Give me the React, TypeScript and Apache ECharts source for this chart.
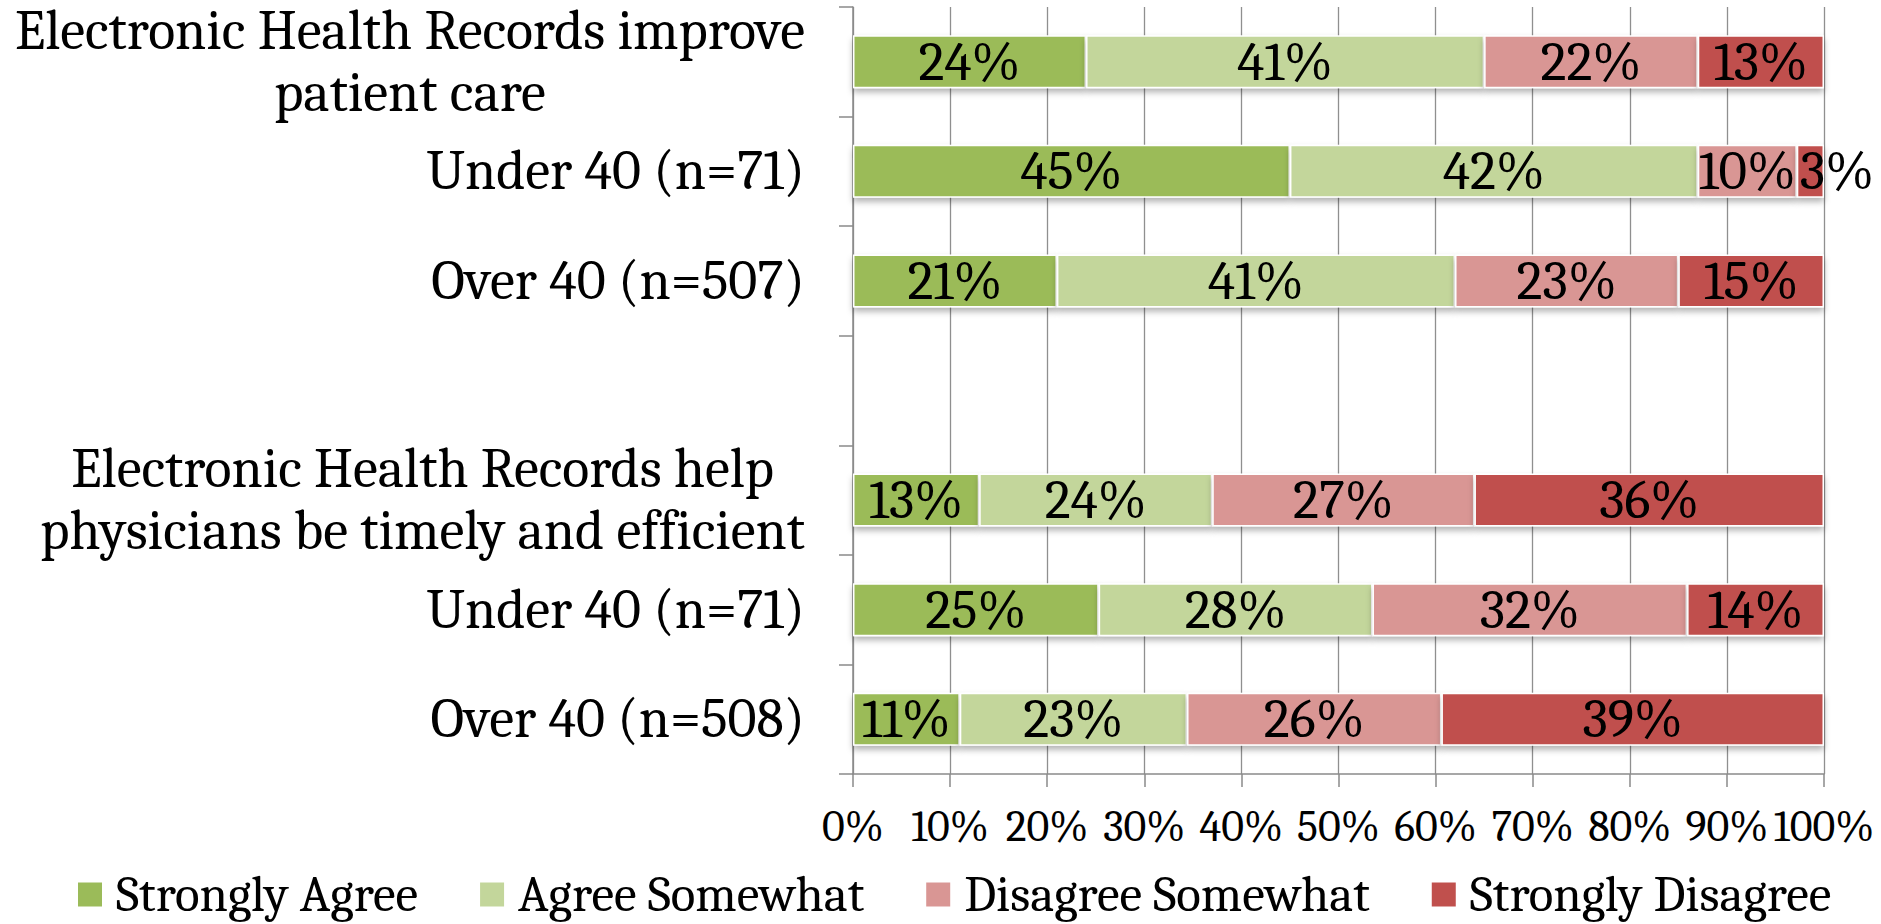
import React, { useEffect, useRef } from 'react';
import * as echarts from 'echarts';

const categories = [
  'Electronic Health Records improve\npatient care',
  'Under 40 (n=71)',
  'Over 40 (n=507)',
  '',
  'Electronic Health Records help\nphysicians be timely and efficient',
  'Under 40 (n=71)',
  'Over 40 (n=508)',
];

const seriesNames = ['Strongly Agree', 'Agree Somewhat', 'Disagree Somewhat', 'Strongly Disagree'];
const stronglyAgree = [24, 45, 21, null, 13, 25.3, 11.0];
const agreeSomewhat = [41, 42, 41, null, 24, 28.2, 23.4];
const disagreeSomewhat = [22, 10.2, 23, null, 27, 32.4, 26.2];
const stronglyDisagree = [13, 2.8, 15, null, 36, 14.1, 39.4];
const colors = ['#9BBB59', '#C3D69B', '#D99694', '#C0504D'];

const FONT = "Cambria, 'Liberation Serif', serif";

export default function App() {
  const ref = useRef<HTMLDivElement>(null);
  useEffect(() => {
    if (!ref.current) return;
    const chart = echarts.init(ref.current, undefined, { renderer: 'svg' });
    const all = [stronglyAgree, agreeSomewhat, disagreeSomewhat, stronglyDisagree];
    const series = all.map((vals, si) => ({
      name: seriesNames[si],
      type: 'bar',
      stack: 'total',
      barWidth: 53,
      itemStyle: {
        color: colors[si],
        borderColor: '#ffffff',
        borderWidth: 1.5,
        shadowColor: 'rgba(0,0,0,0.3)',
        shadowBlur: 6,
        shadowOffsetY: 4,
      },
      label: {
        show: true,
        position: 'inside',
        color: '#000',
        fontFamily: FONT,
        fontSize: 55,
        formatter: (p: any) => (p.value == null ? '' : Math.round(p.value) + '%'),
      },
      data: vals.map((v) => {
        if (v != null && v < 5) {
          return { value: v, label: { position: 'insideLeft', distance: 3 } };
        }
        return v;
      }),
    }));

    chart.setOption({
      animation: false,
      backgroundColor: '#ffffff',
      grid: { left: 853, right: 57, top: 7, bottom: 150, containLabel: false },
      legend: {
        data: seriesNames,
        left: 73,
        top: 864,
        icon: 'rect',
        itemWidth: 24,
        itemHeight: 24,
        itemGap: 62,
        itemStyle: { borderWidth: 0, shadowBlur: 0, shadowOffsetY: 0 },
        textStyle: { fontFamily: FONT, fontSize: 51, color: '#000', padding: [0, 0, 0, 9] },
      },
      xAxis: {
        type: 'value',
        min: 0,
        max: 100,
        interval: 10,
        axisLine: { show: true, lineStyle: { color: '#8a8a8a', width: 1.5 } },
        axisTick: { show: true, length: 13, lineStyle: { color: '#8a8a8a', width: 1.5 } },
        splitLine: { show: true, lineStyle: { color: '#8f8f8f', width: 1.3 } },
        axisLabel: {
          formatter: '{value}%',
          fontFamily: FONT,
          fontSize: 44,
          color: '#000',
          margin: 30,
        },
      },
      yAxis: {
        type: 'category',
        inverse: true,
        data: categories,
        axisLine: { show: true, lineStyle: { color: '#8a8a8a', width: 1.5 } },
        axisTick: { show: true, length: 14, lineStyle: { color: '#8a8a8a', width: 1.5 } },
        splitLine: { show: false },
        axisLabel: {
          margin: 48,
          align: 'right',
          formatter: (v: string) => (v ? v.split('\n').map((l) => `{c|${l}}`).join('\n') : ''),
          rich: {
            c: {
              fontFamily: FONT,
              fontSize: 56,
              color: '#000',
              lineHeight: 62,
              align: 'center',
            },
          },
        },
      },
      series,
    });
    return () => chart.dispose();
  }, []);
  return (
    <div
      ref={ref}
      style={{ position: 'fixed', left: 0, top: 0, width: 1881, height: 924, background: '#fff' }}
    />
  );
}
